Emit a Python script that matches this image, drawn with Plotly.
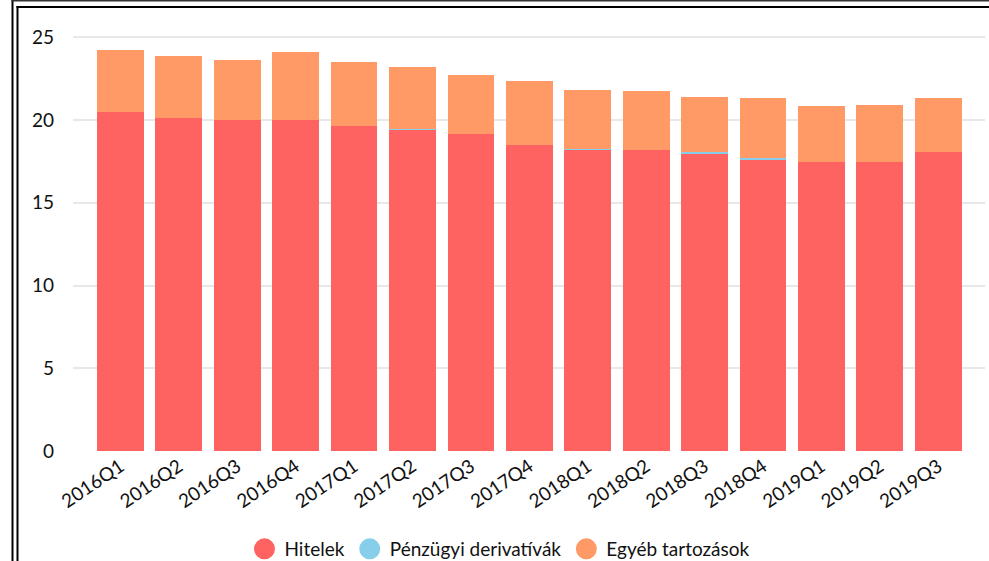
import plotly.graph_objects as go

categories = ["2016Q1", "2016Q2", "2016Q3", "2016Q4", "2017Q1", "2017Q2", "2017Q3", "2017Q4",
              "2018Q1", "2018Q2", "2018Q3", "2018Q4", "2019Q1", "2019Q2", "2019Q3"]
hitelek = [20.50, 20.14, 20.02, 20.02, 19.66, 19.40, 19.17, 18.49, 18.20, 18.21, 17.98, 17.60, 17.46, 17.46, 18.07]
derivativak = [0.0, 0.0, 0.0, 0.0, 0.0, 0.04, 0.0, 0.0, 0.03, 0.0, 0.07, 0.08, 0.0, 0.0, 0.0]
egyeb_total = [24.23, 23.89, 23.63, 24.11, 23.50, 23.22, 22.72, 22.36, 21.81, 21.75, 21.39, 21.33, 20.85, 20.91, 21.33]
egyeb = [round(t - h - d, 3) for t, h, d in zip(egyeb_total, hitelek, derivativak)]

names = ["Hitelek", "Pénzügyi derivatívák", "Egyéb tartozások"]
colors = ["#FF6361", "#87CEEB", "#FF9966"]
series = [hitelek, derivativak, egyeb]

W, H = 989, 561
ML, MR, MT, MB = 73, 4, 20, 110
PW, PH = W - ML - MR, H - MT - MB

fig = go.Figure()
for name, col, vals in zip(names, colors, series):
    fig.add_trace(go.Bar(x=categories, y=vals, name=name, marker=dict(color=col, line=dict(width=0)),
                         showlegend=False))
for name, col in zip(names, colors):
    fig.add_trace(go.Scatter(x=[None], y=[None], mode="markers", name=name,
                             marker=dict(color=col, size=16, symbol="circle",
                                         line=dict(color=col, width=5))))

def px2x(px):
    return (px - ML) / PW

def py2y(py):
    return (H - MB - py) / PH

shapes = []
# double frame
shapes.append(dict(type="line", xref="paper", yref="paper", x0=px2x(12.5), x1=px2x(12.5), y0=py2y(0), y1=py2y(561), line=dict(color="black", width=2)))
shapes.append(dict(type="line", xref="paper", yref="paper", x0=px2x(17.5), x1=px2x(17.5), y0=py2y(6), y1=py2y(561), line=dict(color="black", width=2)))
shapes.append(dict(type="line", xref="paper", yref="paper", x0=px2x(11.5), x1=px2x(989), y0=py2y(0.8), y1=py2y(0.8), line=dict(color="#333333", width=1.5)))
shapes.append(dict(type="line", xref="paper", yref="paper", x0=px2x(16.5), x1=px2x(989), y0=py2y(7), y1=py2y(7), line=dict(color="black", width=2)))

fig.update_layout(
    width=W, height=H,
    margin=dict(l=ML, r=MR, t=MT, b=MB, autoexpand=False),
    barmode="stack", bargap=0.2,
    plot_bgcolor="white", paper_bgcolor="white",
    font=dict(family="Lato, Calibri, sans-serif", size=19, color="#111111"),
    xaxis=dict(range=[-0.81, 14.8], tickangle=-34, showgrid=False, zeroline=False, showline=False,
               ticks="", tickfont=dict(size=19), automargin=False),
    yaxis=dict(range=[0, (H - MB - MT) / 16.55], tickvals=[0, 5, 10, 15, 20, 25], showgrid=True,
               gridcolor="#E8E8E8", gridwidth=2, zeroline=False, showline=False, ticks="",
               ticklabelstandoff=18, tickfont=dict(size=19), automargin=False),
    legend=dict(orientation="h", x=px2x(500), xanchor="center", y=py2y(549), yanchor="middle",
                font=dict(size=19), itemwidth=30, traceorder="normal"),
    shapes=shapes,
)

fig.write_html("out.html", config={"displayModeBar": False},
               post_script="document.body.style.margin='0';document.body.style.overflow='hidden';")
